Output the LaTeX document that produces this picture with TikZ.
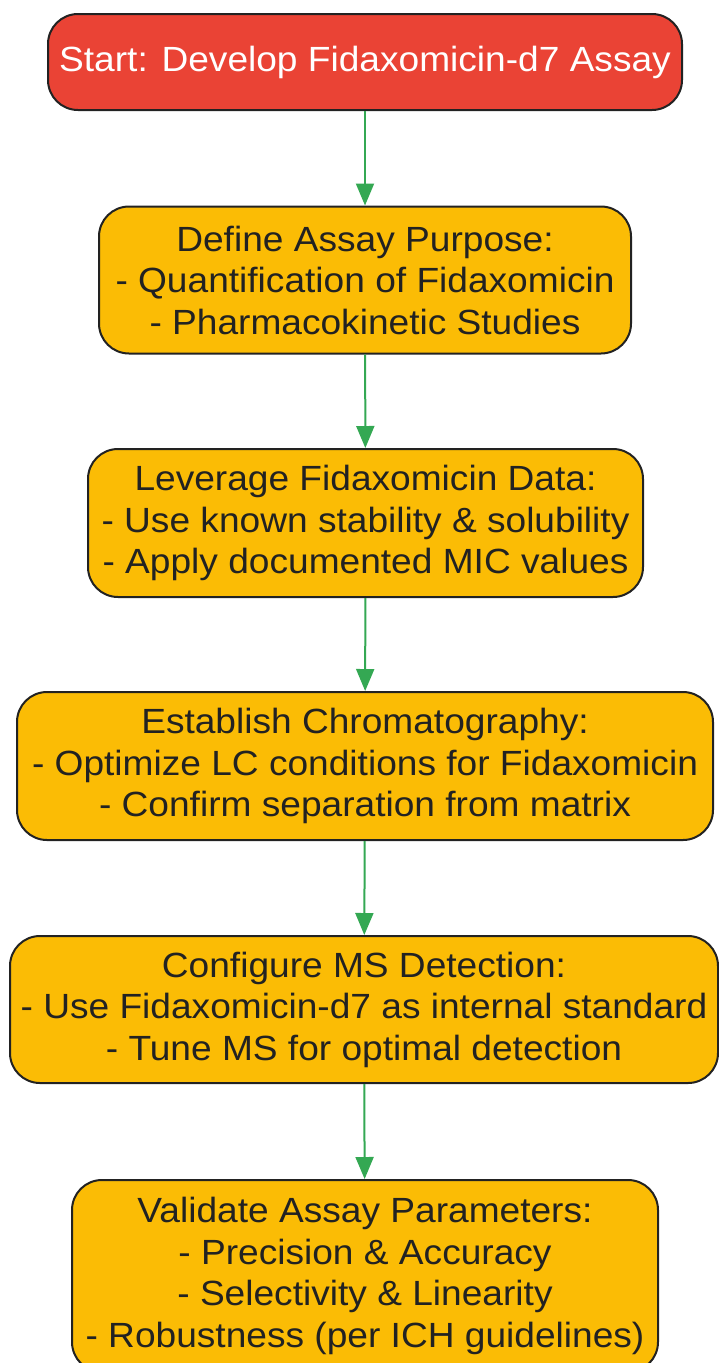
\documentclass[tikz,border=0pt]{standalone}
\usepackage{fontspec}
\setmainfont[FakeStretch=1.06]{Liberation Sans}
\usetikzlibrary{arrows.meta,positioning}
\definecolor{startred}{HTML}{EA4335}
\definecolor{stageyellow}{HTML}{FBBC05}
\definecolor{flowgreen}{HTML}{34A853}
\definecolor{edgedark}{HTML}{222222}

\begin{document}
\begin{tikzpicture}[x=1pt, y=-1pt,
    stage/.style={rectangle, rounded corners=30pt, draw=edgedark, line width=2pt, fill=stageyellow, text=edgedark, align=center, inner sep=0pt, font=\fontsize{35}{41.5}\selectfont},
    flow/.style={-{Triangle[length=22pt, width=18pt]}, line width=2pt, draw=flowgreen, fill=flowgreen}]
    \useasboundingbox (0,0) rectangle (718,1363);
    % Start of the assay workflow
    \node[stage, fill=startred, text=white, minimum width=634pt, minimum height=96pt] (start) at (365,62) {Start: Develop Fidaxomicin-d7 Assay};
    % Development stages
    \node[stage, minimum width=532pt, minimum height=147pt] (purpose) at (365,280) {Define Assay Purpose:\\- Quantification of Fidaxomicin\\- Pharmacokinetic Studies};
    \node[stage, minimum width=555pt, minimum height=148pt] (leverage) at (365.5,523) {Leverage Fidaxomicin Data:\\- Use known stability \& solubility\\- Apply documented MIC values};
    \node[stage, minimum width=696pt, minimum height=148pt] (chroma) at (365,766) {Establish Chromatography:\\- Optimize LC conditions for Fidaxomicin\\- Confirm separation from matrix};
    \node[stage, minimum width=708pt, minimum height=147pt] (msdetect) at (364,1009.5) {Configure MS Detection:\\- Use Fidaxomicin-d7 as internal standard\\- Tune MS for optimal detection};
    \node[stage, minimum width=586pt, minimum height=192pt] (validate) at (365,1276) {Validate Assay Parameters:\\- Precision \& Accuracy\\- Selectivity \& Linearity\\- Robustness (per ICH guidelines)};

    \draw[flow] (start) -- (purpose);
    \draw[flow] (purpose) -- (leverage);
    \draw[flow] (leverage) -- (chroma);
    \draw[flow] (chroma) -- (msdetect);
    \draw[flow] (msdetect) -- (validate);
\end{tikzpicture}
\end{document}
